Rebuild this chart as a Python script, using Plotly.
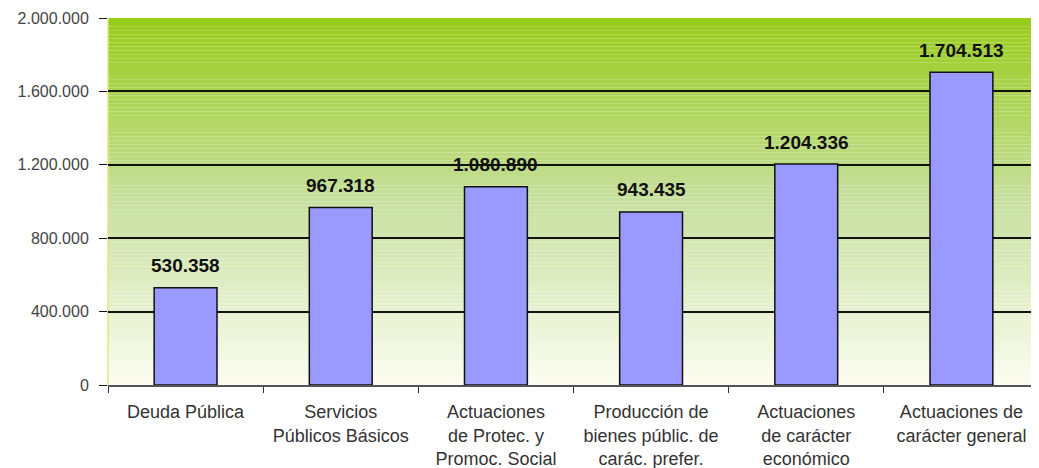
import plotly.graph_objects as go

categories = ["Deuda Pública", "Servicios<br>Públicos Básicos", "Actuaciones<br>de Protec. y<br>Promoc. Social",
              "Producción de<br>bienes públic. de<br>carác. prefer.", "Actuaciones<br>de carácter<br>económico",
              "Actuaciones de<br>carácter general"]
values = [530358, 967318, 1080890, 943435, 1204336, 1704513]
value_labels = ["530.358", "967.318", "1.080.890", "943.435", "1.204.336", "1.704.513"]
y_ticks = [0, 400000, 800000, 1200000, 1600000, 2000000]
y_tick_labels = ["0", "400.000", "800.000", "1.200.000", "1.600.000", "2.000.000"]

fig = go.Figure()

# background gradient built from thin horizontal stripes (green top -> near white bottom)
top_rgb = (152, 204, 26)
mid_rgb = (200, 224, 160)
bot_rgb = (252, 253, 240)
n = 90
shapes = []
for i in range(n):
    t = i / (n - 1)
    if t < 0.5:
        a, b, f = top_rgb, mid_rgb, t / 0.5
    else:
        a, b, f = mid_rgb, bot_rgb, (t - 0.5) / 0.5
    c = tuple(int(a[k] + (b[k] - a[k]) * f) for k in range(3))
    y1 = 1 - i / n
    y0 = 1 - (i + 1) / n
    shapes.append(dict(type="rect", xref="paper", yref="paper", x0=0, x1=1, y0=y0, y1=y1,
                       fillcolor="rgb(%d,%d,%d)" % c, line=dict(width=0), layer="below"))
# yellowish left border
shapes.append(dict(type="line", xref="paper", yref="paper", x0=0, x1=0, y0=0, y1=1,
                   line=dict(color="#e6e67a", width=1.5), layer="below"))

fig.add_trace(go.Bar(x=categories, y=values,
                     marker=dict(color="#9999FF", line=dict(color="#111111", width=1.5)),
                     hoverinfo="skip"))

for c, v, lab in zip(categories, values, value_labels):
    fig.add_annotation(x=c, y=v, text="<b>" + lab + "</b>", showarrow=False, yshift=22,
                       font=dict(family="Liberation Sans, Arial", size=19, color="#111111"))

# page body has an 8px margin, so the figure is 8px smaller than the window
fig.update_layout(
    width=1031, height=460,
    margin=dict(l=100, r=0, t=10, b=83),
    paper_bgcolor="white", plot_bgcolor="rgba(0,0,0,0)",
    bargap=0.595, showlegend=False, shapes=shapes,
    font=dict(family="Liberation Sans, Arial", size=16, color="#333333"),
)
fig.update_yaxes(range=[0, 2000000], tickvals=y_ticks, ticktext=y_tick_labels,
                 showgrid=True, gridcolor="#111111", gridwidth=1.5, automargin=False,
                 ticks="outside", ticklen=8, tickcolor="#111111", zeroline=False,
                 ticklabelstandoff=7,
                 tickfont=dict(size=16, color="#444444"))
fig.update_xaxes(tickson="boundaries", ticks="outside", ticklen=6, tickcolor="#333333",
                 showline=True, linecolor="#555555", linewidth=1.5, automargin=False,
                 ticklabelstandoff=10,
                 tickfont=dict(size=18, color="#333333"))

fig.write_html("out.html")
